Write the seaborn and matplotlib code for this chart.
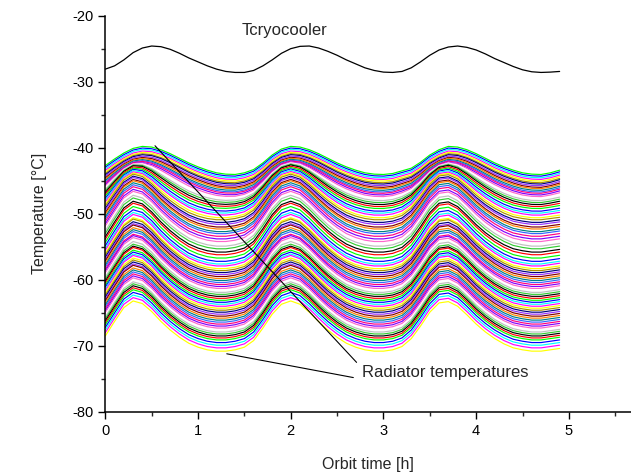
import numpy as np
import pandas as pd
import matplotlib
matplotlib.use("Agg")
import matplotlib.pyplot as plt
from matplotlib.ticker import MultipleLocator
import seaborn as sns

# orbit time grid [h]
time_h = [round(0.1 * i, 1) for i in range(50)]

# cryocooler temperature
t_cryo = [-28.1, -27.6, -26.7, -25.6, -24.9, -24.6, -24.7, -25.1, -25.7, -26.4,
          -27.0, -27.6, -28.1, -28.45, -28.6, -28.6, -28.3, -27.6, -26.7, -25.7,
          -25.0, -24.65, -24.6, -24.9, -25.4, -26.0, -26.7, -27.3, -27.9, -28.3,
          -28.55, -28.6, -28.45, -27.9, -27.0, -26.0, -25.2, -24.75, -24.6, -24.8,
          -25.2, -25.8, -26.5, -27.1, -27.7, -28.2, -28.5, -28.6, -28.55, -28.45]

# warmest radiator (smooth profile)
t_rad_top = [-42.7, -41.7, -40.8, -40.1, -39.8, -39.9, -40.3, -40.9, -41.6, -42.3,
             -42.9, -43.4, -43.8, -44.0, -44.05, -43.8, -43.3, -42.3, -41.1, -40.2,
             -39.8, -39.9, -40.3, -40.9, -41.6, -42.3, -42.9, -43.4, -43.8, -44.0,
             -44.05, -43.9, -43.5, -43.1, -42.2, -41.1, -40.3, -39.8, -39.9, -40.3,
             -40.9, -41.6, -42.3, -42.9, -43.4, -43.8, -44.0, -44.05, -43.8, -43.4]

# coldest radiator (sharp profile)
t_rad_bottom = [-68.5, -66.3, -64.2, -63.2, -63.6, -64.8, -66.3, -67.6, -68.7, -69.6,
                -70.2, -70.6, -70.8, -70.8, -70.6, -70.2, -69.2, -67.3, -65.2, -63.7,
                -63.2, -63.7, -64.9, -66.3, -67.6, -68.7, -69.6, -70.2, -70.6, -70.8,
                -70.8, -70.6, -70.1, -68.9, -67.0, -64.9, -63.5, -63.3, -64.0, -65.3,
                -66.7, -67.9, -68.9, -69.7, -70.3, -70.6, -70.8, -70.8, -70.6, -70.4]

# per-radiator trough level, swing and profile sharpness
rad_trough = [-44.05, -44.3, -44.55, -44.8, -45.05, -45.3, -45.5, -45.75, -46.0, -46.2,
              -46.45, -46.7, -46.9, -47.15,
              -47.4, -47.7, -48.0, -48.3, -48.6, -48.9, -49.2, -49.6, -49.9, -50.2,
              -50.6, -50.9, -51.3, -51.6, -52.0, -52.3, -52.7, -53.0, -53.4, -53.8,
              -54.2, -54.5, -54.9, -55.3, -55.8, -56.2, -56.7, -57.2,
              -57.6, -57.9, -58.3, -58.6, -58.9, -59.2, -59.5, -59.8, -60.1, -60.4,
              -60.7, -61.0, -61.3, -61.6, -61.9, -62.2, -62.5, -62.8, -63.1, -63.4,
              -63.7, -64.0, -64.3, -64.6, -64.9, -65.2, -65.5, -65.8, -66.1, -66.4,
              -66.7, -67.0, -67.3, -67.6, -67.9, -68.2, -68.5, -68.8, -69.1, -69.5,
              -69.9, -70.3, -70.8]
rad_swing = [4.25, 4.25, 4.3, 4.3, 4.35, 4.4, 4.45, 4.5, 4.55, 4.6,
             4.7, 4.8, 4.9, 5.0,
             5.2, 5.4, 5.6, 5.8, 6.0, 6.1, 6.2, 6.4, 6.5, 6.6,
             6.8, 6.9, 7.0, 7.1, 7.2, 7.3, 7.4, 7.4, 7.5, 7.5,
             7.6, 7.6, 7.7, 7.7, 7.7, 7.8, 7.8, 7.8,
             7.8, 7.8, 7.7, 7.8, 7.7, 7.7, 7.8, 7.7, 7.7, 7.7,
             7.6, 7.7, 7.7, 7.6, 7.7, 7.6, 7.6, 7.7, 7.6, 7.6,
             7.6, 7.7, 7.6, 7.6, 7.6, 7.6, 7.7, 7.6, 7.6, 7.6,
             7.6, 7.6, 7.6, 7.6, 7.6, 7.6, 7.6, 7.6, 7.6, 7.6,
             7.6, 7.6, 7.6]
rad_sharp = [0, 0, 0, 0, 0, 0.05, 0.05, 0.1, 0.1, 0.15,
             0.2, 0.2, 0.25, 0.3,
             0.4, 0.5, 0.6, 0.65, 0.7, 0.75, 0.8, 0.85, 0.9, 0.9,
             0.95, 1, 1, 1, 1, 1, 1, 1, 1, 1,
             1, 1, 1, 1, 1, 1, 1, 1] + [1] * 43

# Origin-like colour cycle (bright entries dominate, as in the original)
origin_colors = ['#000000', '#FF0000', '#00FF00', '#0000FF', '#00FFFF', '#FF00FF',
                 '#FFFF00', '#A89000', '#000080', '#9933FF', '#800000', '#FF8000',
                 '#008080', '#3366FF', '#FF0080', '#8000FF', '#FF66CC', '#FFFFFF',
                 '#C0C0C0', '#33CC33']

sns.set_style("ticks")
plt.rcParams['font.family'] = ['Liberation Sans', 'DejaVu Sans']
plt.rcParams['axes.unicode_minus'] = False

# normalise the two read profiles to 0..1 and blend per radiator
top = np.array(t_rad_top)
bot = np.array(t_rad_bottom)
smooth_n = (top - top.min()) / (top.max() - top.min())
sharp_n = (bot - bot.min()) / (bot.max() - bot.min())

rows = []
for i, (lo, sw, w) in enumerate(zip(rad_trough, rad_swing, rad_sharp)):
    prof = lo + sw * ((1 - w) * smooth_n + w * sharp_n)
    for t, v in zip(time_h, prof):
        rows.append((f"R{i:02d}", t, v))
df = pd.DataFrame(rows, columns=['radiator', 'time', 'temp'])
n = len(rad_trough)
# coldest radiator ends up yellow, as in the original
palette = [origin_colors[(6 - (n - 1 - i)) % len(origin_colors)] for i in range(n)]

fig = plt.figure(figsize=(6.31, 4.74), dpi=100)
ax = fig.add_axes([0.1669, 0.131, 0.8331, 0.836])

sns.lineplot(data=df, x='time', y='temp', hue='radiator', palette=palette,
             estimator=None, sort=False, legend=False, linewidth=0.85, ax=ax)
sns.lineplot(x=time_h, y=t_cryo, color='black', linewidth=0.9, ax=ax)

ax.text(1.93, -22.3, 'Tcryocooler', fontsize=12, ha='center', va='center')
ax.text(2.77, -74.0, 'Radiator temperatures', fontsize=12, ha='left', va='center')
ax.annotate('', xy=(0.536, -39.7), xytext=(2.71, -72.5),
            arrowprops=dict(arrowstyle='-', color='black', lw=0.8, shrinkA=0, shrinkB=0))
ax.annotate('', xy=(1.31, -71.2), xytext=(2.675, -74.8),
            arrowprops=dict(arrowstyle='-', color='black', lw=0.8, shrinkA=0, shrinkB=0))

ax.set_xlim(0, 5.67)
ax.set_ylim(-80, -20)
ax.xaxis.set_major_locator(MultipleLocator(1))
ax.xaxis.set_minor_locator(MultipleLocator(0.5))
ax.yaxis.set_major_locator(MultipleLocator(10))
ax.yaxis.set_minor_locator(MultipleLocator(5))
ax.tick_params(which='major', direction='out', length=5, width=1, labelsize=10.5, colors='black')
ax.tick_params(which='minor', direction='out', length=3, width=1)
for s in ['top', 'right']:
    ax.spines[s].set_visible(False)
for s in ['left', 'bottom']:
    ax.spines[s].set_linewidth(1.1)
    ax.spines[s].set_color('black')

ax.set_xlabel('Orbit time [h]', fontsize=11.5, labelpad=14)
ax.set_ylabel('Temperature [°C]', fontsize=11.5, labelpad=18)

plt.savefig('out.png', dpi=100)
